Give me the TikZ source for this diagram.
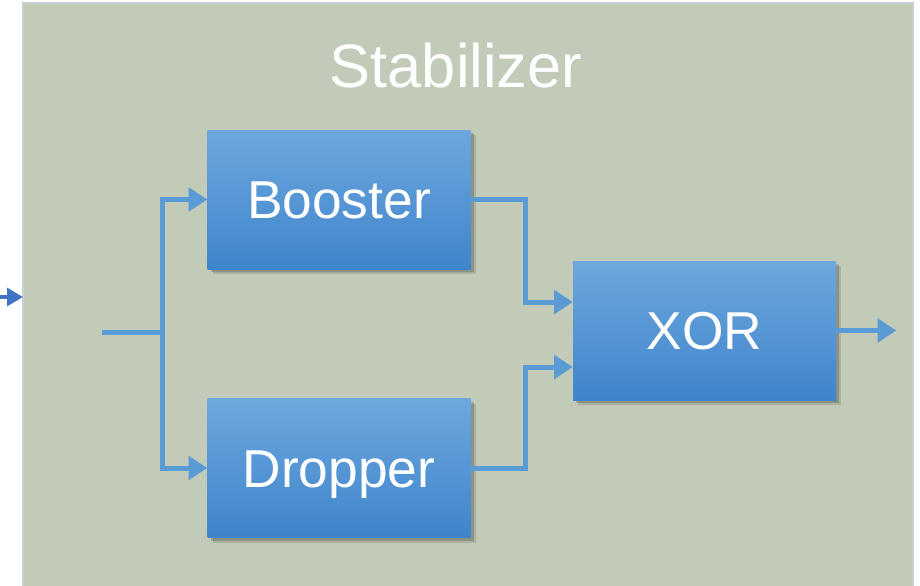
\documentclass[tikz,border=0pt]{standalone}
\usepackage{fontspec}
\setmainfont{Liberation Sans}
\usetikzlibrary{calc, positioning, arrows.meta, shadows}
\definecolor{panelfill}{HTML}{C2CAB8}
\definecolor{panelline}{HTML}{C9D0D5}
\definecolor{flowblue}{HTML}{5B9BD5}
\definecolor{boxtop}{HTML}{6DA7DE}
\definecolor{boxbot}{HTML}{3F85CB}
\definecolor{feedblue}{HTML}{4472C4}

\tikzset{
  block/.style={rectangle, minimum width=197.25pt, minimum height=104.25pt, inner sep=0pt,
    top color=boxtop, bottom color=boxbot, text=white,
    font=\fontsize{40}{40}\selectfont, text height=28.6pt, text depth=0pt,
    drop shadow={shadow xshift=4pt, shadow yshift=-4pt, opacity=0.12, fill=black},
    drop shadow={shadow xshift=2.5pt, shadow yshift=-2.5pt, opacity=0.18, fill=black}},
  title/.style={text=white, inner sep=0pt, font=\fontsize{46}{46}\selectfont, text height=33pt, text depth=0pt},
  flowline/.style={draw=flowblue, line width=3.75pt},
  flow/.style={flowline, -{Triangle[length=14pt,width=17.5pt]}},
  feed/.style={draw=feedblue, line width=2.5pt, -{Triangle[length=12pt,width=13.5pt]}}
}

\begin{document}
\begin{tikzpicture}[x=0.75pt, y=-0.75pt]
\useasboundingbox (0,0) rectangle (920,585);
\clip (0,0) rectangle (920,585);
\fill[panelfill] (23,3) rectangle (913,590);
\draw[panelline, line width=1.5pt] (23,590) -- (23,3) -- (913,3) -- (913,590);

\node[title] (title) at (456,66) {Stabilizer};

\node[block] (booster) at (339,199.5) {Booster};
\node[block] (dropper) at (339,468) {Dropper};
\node[block] (xor) at (704.5,330.5) {XOR};

\coordinate (lin) at (-5,297);
\coordinate (lout) at (23,297);
\coordinate (in) at (102,332);
\coordinate (split) at (162,332);

\draw[feed] (lin) -- (lout);
\draw[flowline] (in) -- (split);
\draw[flow] (split) |- (booster.west);
\draw[flow] (split) |- (dropper.west);
\draw[flow] (booster.east) -- ++(55,0) |- ($(xor.west)+(0,-28.5)$);
\draw[flow] (dropper.east) -- ++(55,0) |- ($(xor.west)+(0,36.5)$);
\draw[flow] (xor.east) -- ++(60,0);
\end{tikzpicture}
\end{document}
